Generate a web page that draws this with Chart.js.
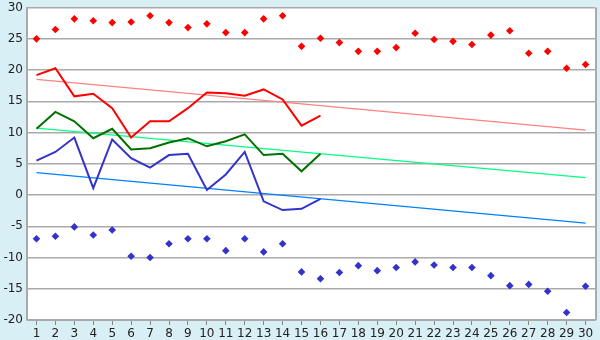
<!DOCTYPE html>
<html>
<head>
<meta charset="utf-8">
<script src="https://cdn.jsdelivr.net/npm/chart.js@4"></script>
<style>
  body { margin: 0; background: #d9eff6; }
  #wrap { width: 600px; height: 340px; position: relative; }
</style>
</head>
<body>
<div id="wrap"><canvas id="myChart"></canvas></div>
<script>
const days = ["1", "2", "3", "4", "5", "6", "7", "8", "9", "10", "11", "12", "13", "14", "15",
  "16", "17", "18", "19", "20", "21", "22", "23", "24", "25", "26", "27", "28", "29", "30"];

// lines (only first 16 days)
const redLine = [19.2, 20.3, 15.8, 16.2, 13.9, 9.2, 11.8, 11.8, 13.9, 16.4, 16.3, 15.9, 16.9, 15.3, 11.1, 12.7];
const greenLine = [10.6, 13.3, 11.8, 9.1, 10.6, 7.3, 7.5, 8.4, 9.1, 7.8, 8.6, 9.7, 6.4, 6.6, 3.8, 6.6];
const blueLine = [5.5, 6.9, 9.2, 1.1, 8.9, 5.9, 4.4, 6.4, 6.6, 0.8, 3.3, 6.9, -1.0, -2.4, -2.2, -0.6];

// single points (diamonds)
const redPoints = [25.0, 26.5, 28.2, 27.9, 27.6, 27.7, 28.7, 27.6, 26.8, 27.4, 26.0, 26.0, 28.2, 28.7, 23.8,
  25.1, 24.4, 23.0, 23.0, 23.6, 25.9, 24.9, 24.6, 24.1, 25.6, 26.3, 22.7, 23.0, 20.3, 20.9];
const bluePoints = [-7.0, -6.6, -5.1, -6.4, -5.6, -9.8, -10.0, -7.8, -7.0, -7.0, -8.9, -7.0, -9.1, -7.8, -12.3,
  -13.4, -12.4, -11.3, -12.1, -11.6, -10.7, -11.2, -11.6, -11.6, -12.9, -14.5, -14.3, -15.4, -18.8, -14.6];

// trend lines: start (day 1) and end (day 30)
const redTrend = [18.5, 10.4];
const greenTrend = [10.7, 2.8];
const blueTrend = [3.6, -4.5];

const yTicks = [-20, -15, -10, -5, 0, 5, 10, 15, 20, 25, 30];

function trendData(ends) {
  return days.map((d, i) => (i === 0 ? ends[0] : i === days.length - 1 ? ends[1] : null));
}

// white plot area + right border
const plotBg = {
  id: "plotBg",
  beforeDraw(chart) {
    const { ctx, chartArea: a } = chart;
    ctx.save();
    ctx.fillStyle = "#d9eff6";
    ctx.fillRect(0, 0, chart.width, chart.height);
    ctx.fillStyle = "#ffffff";
    ctx.fillRect(a.left, a.top, a.right - a.left, a.bottom - a.top);
    ctx.restore();
  },
  afterDraw(chart) {
    const { ctx, chartArea: a } = chart;
    ctx.save();
    ctx.strokeStyle = "#aaaaaa";
    ctx.lineWidth = 2;
    ctx.beginPath();
    ctx.moveTo(a.right + 1, a.top);
    ctx.lineTo(a.right + 1, a.bottom);
    ctx.stroke();
    ctx.restore();
  },
};

const ctx = document.getElementById("myChart");

new Chart(ctx, {
  type: "line",
  data: {
    labels: days,
    datasets: [
      { data: trendData(redTrend), borderColor: "#ff8080", borderWidth: 1.3, pointRadius: 0, spanGaps: true, order: 5 },
      { data: trendData(greenTrend), borderColor: "#00ff80", borderWidth: 1.3, pointRadius: 0, spanGaps: true, order: 5 },
      { data: trendData(blueTrend), borderColor: "#0080ff", borderWidth: 1.3, pointRadius: 0, spanGaps: true, order: 5 },
      { data: redLine, borderColor: "#ff0000", borderWidth: 2, pointRadius: 0, order: 1 },
      { data: greenLine, borderColor: "#007000", borderWidth: 2, pointRadius: 0, order: 1 },
      { data: blueLine, borderColor: "#3333cc", borderWidth: 2, pointRadius: 0, order: 1 },
      {
        data: redPoints, showLine: false, pointStyle: "rectRot", pointRadius: 3.8,
        backgroundColor: "#ff0000", borderColor: "#ff0000", borderWidth: 0, order: 0,
      },
      {
        data: bluePoints, showLine: false, pointStyle: "rectRot", pointRadius: 3.8,
        backgroundColor: "#3333cc", borderColor: "#3333cc", borderWidth: 0, order: 0,
      },
    ],
  },
  options: {
    responsive: true,
    maintainAspectRatio: false,
    animation: false,
    layout: { padding: { top: 3, right: 5, left: 0, bottom: 0 } },
    scales: {
      x: {
        offset: true,
        grid: { display: true, drawOnChartArea: false, offset: false, tickLength: 5, color: "#888888" },
        border: { color: "#aaaaaa" },
        ticks: { color: "#222222", font: { family: "DejaVu Sans", size: 12 }, padding: 2, maxRotation: 0, autoSkip: false },
        afterFit(scale) { scale.height = 20; },
      },
      y: {
        min: -20,
        max: 30,
        afterBuildTicks(scale) { scale.ticks = yTicks.map((v) => ({ value: v })); },
        grid: { color: "#aaaaaa", drawTicks: false, lineWidth: 1.5 },
        border: { color: "#aaaaaa", width: 2 },
        // small lineHeight so the top label doesn't push the plot down
        ticks: { color: "#222222", font: { family: "DejaVu Sans", size: 12, lineHeight: 0.6 }, padding: 4 },
        afterFit(scale) { scale.width = 27; },
      },
    },
    plugins: {
      legend: { display: false },
      tooltip: { enabled: false },
    },
  },
  plugins: [plotBg],
});
</script>
</body>
</html>
